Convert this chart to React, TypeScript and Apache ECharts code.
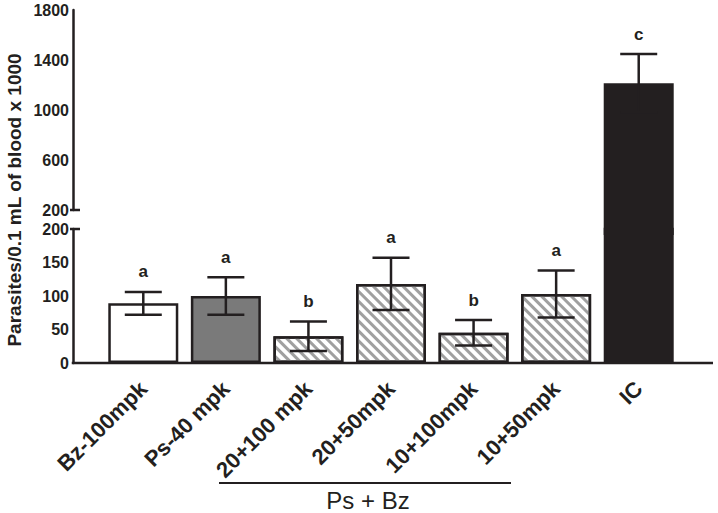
import React, { useEffect, useRef } from 'react';
import * as echarts from 'echarts';

const categories = ['Bz-100mpk', 'Ps-40 mpk', '20+100 mpk', '20+50mpk', '10+100mpk', '10+50mpk', 'IC'];
const means = [89, 100, 40, 118, 45, 103, 1215];
const errors = [17, 28, 22, 39, 19, 35, 233];
const letters = ['a', 'a', 'b', 'a', 'b', 'a', 'c'];
const fills = ['#ffffff', '#7a7a7a', 'hatch', 'hatch', 'hatch', 'hatch', '#231f20'];
const upperRange = [200, 1800];
const upperInterval = 400;
const lowerRange = [0, 200];
const lowerInterval = 50;
const yTitle = 'Parasites/0.1 mL of blood x 1000';
const groupLabel = 'Ps + Bz';

export default function App() {
  const ref = useRef<HTMLDivElement>(null);
  useEffect(() => {
    const chart = echarts.init(ref.current!, null, { renderer: 'svg' });
    const ink = '#231f20';
    const font = 'Liberation Sans, Arial, sans-serif';
    const border = 2.5;
    const hatch = {
      symbol: 'rect',
      symbolSize: 1,
      dashArrayX: [1, 0],
      dashArrayY: [2.6, 3.4],
      rotation: Math.PI / 4,
      color: '#a0a0a0',
      backgroundColor: '#ffffff',
    };
    const itemFor = (i: number) => ({
      value: means[i],
      itemStyle: {
        color: fills[i] === 'hatch' ? '#ffffff' : fills[i],
        decal: fills[i] === 'hatch' ? hatch : undefined,
        borderColor: ink,
        borderWidth: border,
      },
    });
    const lowerBars = categories.map((_, i) => itemFor(i));
    const upperBars = categories
      .map((_, i) => [i, means[i]])
      .filter((d) => d[1] > lowerRange[1]);
    const lowerErr = categories
      .map((_, i) => [i, means[i], errors[i]])
      .filter((d) => d[1] <= lowerRange[1]);
    const upperErr = categories
      .map((_, i) => [i, means[i], errors[i]])
      .filter((d) => d[1] > lowerRange[1]);

    const barWidth = 70;
    const lineStyle = { stroke: ink, lineWidth: 2.5 };
    const renderUpperBar = (params: any, api: any) => {
      const i = api.value(0);
      const top = api.coord([i, api.value(1)]);
      const base = api.coord([i, 0]);
      return {
        type: 'rect',
        shape: {
          x: top[0] - barWidth / 2,
          y: top[1],
          width: barWidth,
          height: base[1] - top[1],
        },
        style: { fill: fills[i] },
      };
    };
    const renderErr = (params: any, api: any) => {
      const i = api.value(0);
      const m = api.value(1);
      const e = api.value(2);
      const top = api.coord([i, m + e]);
      const bot = api.coord([i, m - e]);
      const half = 18.5;
      const x = top[0];
      return {
        type: 'group',
        children: [
          { type: 'line', shape: { x1: x, y1: top[1], x2: x, y2: bot[1] }, style: lineStyle },
          { type: 'line', shape: { x1: x - half, y1: top[1], x2: x + half, y2: top[1] }, style: lineStyle },
          { type: 'line', shape: { x1: x - half, y1: bot[1], x2: x + half, y2: bot[1] }, style: lineStyle },
          {
            type: 'text',
            x,
            y: top[1] - 20,
            style: {
              text: letters[i],
              fill: ink,
              fontSize: 17,
              fontWeight: 'bold',
              fontFamily: font,
              textAlign: 'center',
              textVerticalAlign: 'middle',
            },
          },
        ],
      };
    };

    const axisOffset = 29;
    const renderUpperDecor = (params: any, api: any) => {
      const cs = params.coordSys;
      const ax = cs.x - axisOffset;
      const y = api.coord([0, upperRange[0]])[1];
      return {
        type: 'line',
        shape: { x1: ax - 3, y1: y, x2: ax + 7, y2: y },
        style: lineStyle,
      };
    };
    const renderLowerDecor = (params: any, api: any) => {
      const cs = params.coordSys;
      const ax = cs.x - axisOffset;
      const yTop = api.coord([0, lowerRange[1]])[1];
      const yBase = api.coord([0, lowerRange[0]])[1];
      return {
        type: 'group',
        children: [
          { type: 'line', shape: { x1: ax - 3, y1: yTop, x2: ax + 7, y2: yTop }, style: lineStyle },
          { type: 'line', shape: { x1: ax - 1.25, y1: yBase, x2: cs.x + cs.width + 33, y2: yBase }, style: lineStyle },
        ],
      };
    };

    const yAxisCommon = {
      type: 'value',
      offset: axisOffset,
      axisLine: { show: true, lineStyle: { color: ink, width: 2.5 } },
      axisTick: { show: false },
      splitLine: { show: false },
      axisLabel: {
        color: ink,
        fontSize: 16,
        fontWeight: 'bold',
        fontFamily: font,
        margin: 4,
        formatter: (v: number) => String(v),
      },
    };

    chart.setOption({
      animation: false,
      grid: [
        { left: 102, right: 38, top: 10, height: 200 },
        { left: 102, right: 38, top: 229, height: 134 },
      ],
      xAxis: [
        { type: 'category', gridIndex: 0, data: categories, show: false },
        {
          type: 'category',
          gridIndex: 1,
          data: categories,
          axisLine: { show: false },
          axisTick: { show: false },
          axisLabel: {
            interval: 0,
            rotate: 45,
            color: ink,
            fontSize: 22,
            fontWeight: 'bold',
            fontFamily: font,
            margin: 22,
          },
        },
      ],
      yAxis: [
        { ...yAxisCommon, gridIndex: 0, min: upperRange[0], max: upperRange[1], interval: upperInterval },
        { ...yAxisCommon, gridIndex: 1, min: lowerRange[0], max: lowerRange[1], interval: lowerInterval },
      ],
      series: [
        { type: 'bar', xAxisIndex: 1, yAxisIndex: 1, data: lowerBars, barWidth, z: 2 },
        { type: 'custom', xAxisIndex: 0, yAxisIndex: 0, data: upperBars, renderItem: renderUpperBar, clip: false, z: 3 },
        { type: 'custom', xAxisIndex: 0, yAxisIndex: 0, data: upperErr, renderItem: renderErr, clip: false, z: 5 },
        { type: 'custom', xAxisIndex: 1, yAxisIndex: 1, data: lowerErr, renderItem: renderErr, clip: false, z: 5 },
        { type: 'custom', xAxisIndex: 0, yAxisIndex: 0, data: [[0, 0]], renderItem: renderUpperDecor, clip: false, z: 6 },
        { type: 'custom', xAxisIndex: 1, yAxisIndex: 1, data: [[0, 0]], renderItem: renderLowerDecor, clip: false, z: 6 },
      ],
      graphic: [
        {
          type: 'text',
          x: 14,
          y: 200,
          rotation: Math.PI / 2,
          style: {
            text: yTitle,
            fill: ink,
            fontSize: 19,
            fontWeight: 'bold',
            fontFamily: font,
            textAlign: 'center',
            textVerticalAlign: 'middle',
          },
        },
        { type: 'line', shape: { x1: 219, y1: 483, x2: 511, y2: 483 }, style: { stroke: ink, lineWidth: 2 } },
        {
          type: 'text',
          x: 368,
          y: 500,
          style: {
            text: groupLabel,
            fill: ink,
            fontSize: 24,
            fontFamily: font,
            textAlign: 'center',
            textVerticalAlign: 'middle',
          },
        },
      ],
    });
    return () => chart.dispose();
  }, []);
  return <div ref={ref} style={{ position: 'absolute', left: 0, top: 0, width: 718, height: 513 }} />;
}
